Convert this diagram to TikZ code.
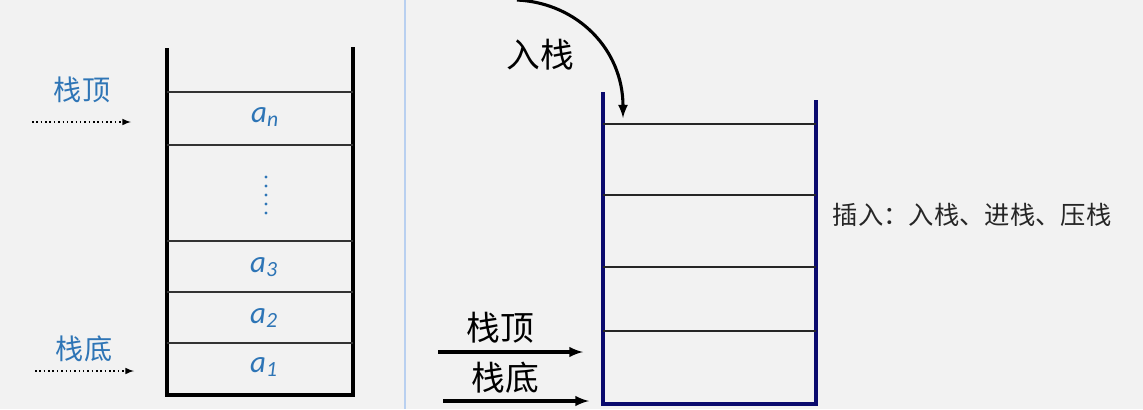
\documentclass[tikz,border=0pt]{standalone}
\usepackage{fontspec}
\setmainfont{Carlito}
\newfontfamily\cjk{Noto Sans CJK SC}
\usetikzlibrary{arrows}
\definecolor{bgc}{RGB}{242,242,242}
\definecolor{lblue}{RGB}{46,117,182}
\definecolor{stacknavy}{RGB}{10,10,110}
\definecolor{divc}{RGB}{185,208,240}
\tikzset{
  wall/.style={line width=2.5pt,black},
  cell/.style={line width=1.3pt,black!80},
  nwall/.style={line width=2.9pt,stacknavy},
  ncell/.style={line width=1.7pt,black!85},
  elem/.style={lblue,font=\fontsize{22}{22}\selectfont\itshape},
  bluelbl/.style={lblue,font=\cjk\fontsize{20}{20}\selectfont},
  blacklbl/.style={black,font=\cjk\fontsize{24}{24}\selectfont},
  ptr/.style={dotted,line width=1.1pt,-latex},
  bigptr/.style={line width=2.3pt,-latex}
}
\begin{document}
\begin{tikzpicture}[x=0.025cm,y=-0.025cm]
\fill[bgc] (0,0) rectangle (1143,409);
\useasboundingbox (0,0) rectangle (1143,409);
\draw[divc,line width=1.6pt] (405,0) -- (405,409);
% left stack
\draw[wall] (167,48) -- (167,395) -- (353,395) -- (353,47);
\foreach \y in {92,145,241,292,343}
  \draw[cell] (167,\y) -- (353,\y);
\node[elem] (an) at (265,117) {a\textsubscript{n}};
\draw[lblue,line width=2.4pt,line cap=round,dash pattern=on 0pt off 6.4pt] (266,177) -- (266,216);
\node[elem] (a3) at (264,267) {a\textsubscript{3}};
\node[elem] (a2) at (264,318) {a\textsubscript{2}};
\node[elem] (a1) at (264,367) {a\textsubscript{1}};
\node[bluelbl] (ltop) at (82,90) {栈顶};
\node[bluelbl] (lbot) at (84,349) {栈底};
\coordinate (ltopa) at (32,122);
\coordinate (ltopb) at (131,122);
\coordinate (lbota) at (35,371);
\coordinate (lbotb) at (134,371);
\draw[ptr] (ltopa) -- (ltopb);
\draw[ptr] (lbota) -- (lbotb);
% right stack
\draw[nwall] (603,92) -- (603,404) -- (816,404) -- (816,100);
\foreach \y in {124,195,267,331}
  \draw[ncell] (603,\y) -- (816,\y);
\node[blacklbl] (push) at (540,55) {入栈};
\coordinate (pushs) at (517,0);
\coordinate (pushe) at (623,118);
\draw[line width=2.2pt,-latex] (pushs) .. controls (578,3) and (623,50) .. (pushe);
\node[black!85,font=\cjk\fontsize{18}{18}\selectfont,anchor=west] (note) at (828,215) {插入：入栈、进栈、压栈};
\node[blacklbl] (rtop) at (500,328) {栈顶};
\node[blacklbl] (rbot) at (505,378) {栈底};
\coordinate (rtopa) at (438,352);
\coordinate (rtopb) at (583,352);
\coordinate (rbota) at (443,401);
\coordinate (rbotb) at (589,401);
\draw[bigptr] (rtopa) -- (rtopb);
\draw[bigptr] (rbota) -- (rbotb);
\end{tikzpicture}
\end{document}
